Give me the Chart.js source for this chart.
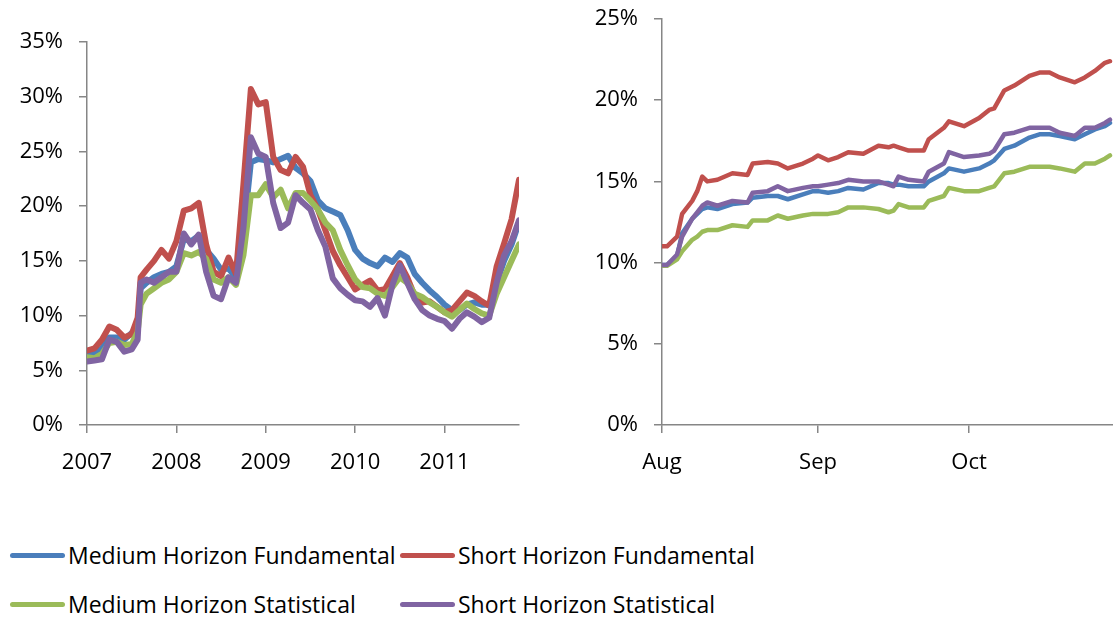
<!DOCTYPE html>
<html>
<head>
<meta charset="utf-8">
<script src="https://cdn.jsdelivr.net/npm/chart.js@4.4.0/dist/chart.umd.min.js"></script>
<style>
  body { margin: 0; background: #fff; width: 1113px; height: 617px; overflow: hidden; position: relative; font-family: "Open Sans", sans-serif; }
  #leftBox { position: absolute; left: 0; top: 0; width: 560px; height: 480px; }
  #rightBox { position: absolute; left: 580px; top: 0; width: 533px; height: 480px; }
  .item { position: absolute; height: 30px; line-height: 30px; display: flex; align-items: center; font-size: 23px; color: #000; white-space: nowrap; }
  .swatch { display: inline-block; width: 55px; height: 5px; border-radius: 3px; margin-right: 3px; }
</style>
</head>
<body>
<div id="leftBox"><canvas id="left-chart"></canvas></div>
<div id="rightBox"><canvas id="right-chart"></canvas></div>
<div id="legend"></div>
<script>
const seriesNames = ['Medium Horizon Fundamental', 'Short Horizon Fundamental', 'Medium Horizon Statistical', 'Short Horizon Statistical'];
const seriesColors = ['#4a7ebb', '#c0504d', '#9bbb59', '#8064a2'];

// left panel: months since Jan 2007
const yearLabels = ['2007', '2008', '2009', '2010', '2011'];
const yearTicks = [0, 12, 24, 36, 48];
const leftMonths = [
  0, 1, 2, 3, 4, 5, 6, 6.8, 7.2, 8,
  9, 10, 11, 12, 13, 14, 15, 16, 17, 18,
  19, 20, 21, 22, 23, 24, 25, 26, 27, 28,
  29, 30, 31, 32, 33, 34, 35, 36, 37, 38,
  39, 40, 41, 42, 43, 44, 45, 46, 47, 48,
  49, 50, 51, 52, 53, 54, 55, 56, 57, 58
];
const leftMediumFund = [
  6.4, 6.6, 7.0, 8.0, 8.0, 7.8, 8.4, 9.0, 12.5, 13.0,
  13.5, 13.8, 14.0, 14.5, 17.0, 16.8, 17.3, 16.0, 15.2, 14.2,
  14.3, 13.5, 17.5, 24.0, 24.3, 24.2, 24.0, 24.3, 24.6, 23.5,
  23.0, 22.3, 20.5, 19.8, 19.5, 19.2, 17.8, 16.0, 15.2, 14.8,
  14.5, 15.3, 14.9, 15.7, 15.3, 13.8, 13.0, 12.3, 11.7, 11.0,
  10.5, 10.5, 11.0, 11.2, 11.0, 11.0, 13.0, 15.0, 16.5, 18.5
];
const leftShortFund = [
  6.8, 7.0, 7.8, 9.0, 8.7, 8.0, 8.3, 9.8, 13.5, 14.2,
  15.0, 16.0, 15.2, 16.8, 19.6, 19.8, 20.3, 16.5, 14.0, 13.6,
  15.3, 13.8, 22.0, 30.7, 29.3, 29.5, 24.5, 23.3, 23.0, 24.5,
  23.6, 21.0, 19.7, 17.8, 15.9, 14.6, 13.5, 12.4, 12.8, 13.2,
  12.3, 12.4, 13.6, 14.8, 13.5, 11.8, 11.2, 11.3, 10.8, 10.3,
  10.5, 11.3, 12.1, 11.8, 11.3, 10.9, 14.5, 16.6, 18.8, 22.4
];
const leftMediumStat = [
  6.2, 6.1, 6.5, 7.5, 7.6, 7.3, 7.4, 8.5, 11.0, 12.0,
  12.5, 13.0, 13.3, 14.0, 15.7, 15.5, 15.8, 15.2, 13.3, 13.0,
  13.5, 12.8, 15.5, 21.0, 21.0, 22.0, 20.8, 21.5, 19.8, 21.2,
  21.2, 20.5, 19.7, 18.5, 17.8, 16.0, 14.6, 13.3, 12.6, 12.5,
  12.0, 11.8, 12.6, 13.5, 13.0, 12.0, 11.7, 11.2, 10.8, 10.3,
  9.9, 10.5, 11.1, 10.6, 10.2, 10.0, 12.0, 13.5, 15.0, 16.5
];
const leftShortStat = [
  5.8, 5.9, 6.0, 7.8, 7.6, 6.7, 6.9, 7.8, 13.0, 13.3,
  13.0, 13.5, 14.0, 14.0, 17.5, 16.5, 17.4, 14.0, 11.8, 11.5,
  13.5, 13.0, 18.0, 26.3, 24.8, 24.5, 20.3, 18.0, 18.5, 21.0,
  20.3, 19.7, 17.8, 16.3, 13.4, 12.5, 11.9, 11.4, 11.3, 10.8,
  11.6, 10.0, 12.8, 14.6, 13.0, 11.5, 10.5, 10.0, 9.7, 9.5,
  8.8, 9.7, 10.3, 9.9, 9.4, 9.8, 13.0, 15.5, 16.8, 18.7
];

// right panel: days since 1 Aug 2011
const monthLabels = ['Aug', 'Sep', 'Oct'];
const monthTicks = [0, 31, 61];
const rightDays = [
  0, 1, 3, 4, 6, 7, 8, 9, 11, 14,
  17, 18, 21, 23, 25, 28, 30, 31, 33, 35,
  37, 40, 43, 45, 46, 47, 49, 52, 53, 56,
  57, 60, 63, 65, 66, 68, 70, 73, 75, 77,
  79, 82, 84, 86, 88, 89
];
const rightMediumFund = [
  9.85, 9.85, 10.4, 11.8, 12.7, 13.0, 13.3, 13.4, 13.3, 13.6,
  13.7, 14.0, 14.1, 14.1, 13.9, 14.2, 14.4, 14.4, 14.3, 14.4,
  14.6, 14.5, 14.9, 14.9, 14.8, 14.8, 14.7, 14.7, 15.0, 15.5,
  15.8, 15.6, 15.8, 16.1, 16.3, 17.0, 17.2, 17.7, 17.9, 17.9,
  17.8, 17.6, 17.9, 18.2, 18.4, 18.6
];
const rightShortFund = [
  11.0, 11.0, 11.6, 13.0, 13.8, 14.4, 15.3, 15.0, 15.1, 15.5,
  15.4, 16.1, 16.2, 16.1, 15.8, 16.1, 16.4, 16.6, 16.3, 16.5,
  16.8, 16.7, 17.2, 17.1, 17.2, 17.1, 16.9, 16.9, 17.6, 18.3,
  18.7, 18.4, 18.9, 19.4, 19.5, 20.6, 20.9, 21.5, 21.7, 21.7,
  21.4, 21.1, 21.4, 21.8, 22.3, 22.4
];
const rightMediumStat = [
  9.8, 9.8, 10.2, 10.7, 11.4, 11.6, 11.9, 12.0, 12.0, 12.3,
  12.2, 12.6, 12.6, 12.9, 12.7, 12.9, 13.0, 13.0, 13.0, 13.1,
  13.4, 13.4, 13.3, 13.1, 13.2, 13.6, 13.4, 13.4, 13.8, 14.1,
  14.6, 14.4, 14.4, 14.6, 14.7, 15.5, 15.6, 15.9, 15.9, 15.9,
  15.8, 15.6, 16.1, 16.1, 16.4, 16.6
];
const rightShortStat = [
  9.85, 9.85, 10.5, 11.6, 12.7, 13.1, 13.5, 13.7, 13.5, 13.8,
  13.7, 14.3, 14.4, 14.7, 14.4, 14.6, 14.7, 14.7, 14.8, 14.9,
  15.1, 15.0, 15.0, 14.8, 14.7, 15.3, 15.1, 15.0, 15.6, 16.1,
  16.8, 16.5, 16.6, 16.7, 16.9, 17.9, 18.0, 18.3, 18.3, 18.3,
  18.0, 17.8, 18.3, 18.3, 18.6, 18.8
];

const axisGray = '#868686';
const tickFont = { family: '"Open Sans", sans-serif', size: 22 };

function makeChart(canvasId, xs, series, cfg) {
  const datasets = series.map((vals, i) => ({
    label: seriesNames[i],
    data: xs.map((x, j) => ({ x: x, y: vals[j] })),
    borderColor: seriesColors[i],
    backgroundColor: seriesColors[i],
    borderWidth: cfg.lineWidth,
    pointRadius: 0,
    tension: 0,
    borderJoinStyle: 'round',
    borderCapStyle: 'round',
    order: 4 - i   // last series on top, like the original
  }));

  return new Chart(document.getElementById(canvasId), {
    type: 'line',
    data: { datasets: datasets },
    options: {
      responsive: true,
      maintainAspectRatio: false,
      animation: false,
      layout: { padding: { top: cfg.padTop, right: cfg.padRight, left: 0, bottom: 0 } },
      plugins: { legend: { display: false }, tooltip: { enabled: false } },
      scales: {
        x: {
          type: 'linear',
          bounds: 'data',
          min: 0,
          max: cfg.xMax,
          afterBuildTicks: scale => { scale.ticks = cfg.xTicks.map(v => ({ value: v })); },
          afterFit: scale => {
            scale.height = 55;
            scale.paddingLeft = 0;
            scale.paddingRight = 0;
          },
          ticks: {
            autoSkip: false,
            maxRotation: 0,
            padding: 17,
            color: '#000',
            font: tickFont,
            callback: (v, i) => cfg.xLabels[i]
          },
          grid: { drawOnChartArea: false, tickLength: 8, color: axisGray, lineWidth: 1.5 },
          border: { color: axisGray, width: 1.5 }
        },
        y: {
          min: 0,
          max: cfg.yMax,
          afterFit: scale => {
            scale.width = cfg.axisWidth;
            scale.paddingTop = 0;
            scale.paddingBottom = 0;
          },
          ticks: {
            stepSize: 5,
            padding: 16,
            color: '#000',
            font: tickFont,
            callback: v => v + '%'
          },
          grid: { drawOnChartArea: false, tickLength: 8, color: axisGray, lineWidth: 1.5 },
          border: { color: axisGray, width: 1.5 }
        }
      }
    }
  });
}

makeChart('left-chart', leftMonths, [leftMediumFund, leftShortFund, leftMediumStat, leftShortStat], {
  lineWidth: 6, xMax: 58, xTicks: yearTicks, xLabels: yearLabels,
  yMax: 35, axisWidth: 87, padTop: 42, padRight: 41
});

makeChart('right-chart', rightDays, [rightMediumFund, rightShortFund, rightMediumStat, rightShortStat], {
  lineWidth: 4.5, xMax: 89.6, xTicks: monthTicks, xLabels: monthLabels,
  yMax: 25, axisWidth: 82, padTop: 19, padRight: 0
});

// shared legend under both panels
const legendSpots = [[10, 555], [400, 555], [10, 604], [400, 604]];
const legend = document.getElementById('legend');
seriesNames.forEach((name, i) => {
  const item = document.createElement('div');
  item.className = 'item';
  item.style.left = legendSpots[i][0] + 'px';
  item.style.top = (legendSpots[i][1] - 15) + 'px';
  item.innerHTML = '<span class="swatch" style="background:' + seriesColors[i] + '"></span>' + name;
  legend.appendChild(item);
});
</script>
</body>
</html>
